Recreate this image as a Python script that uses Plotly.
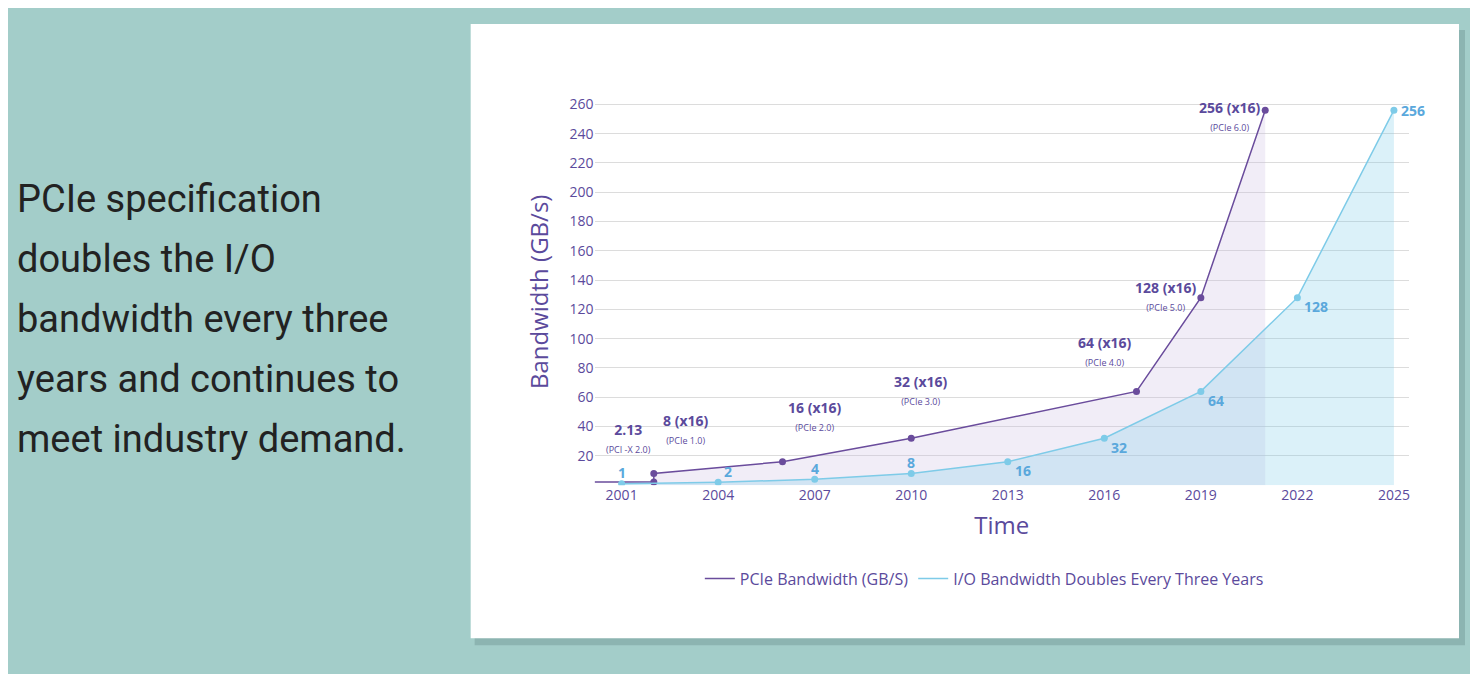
import plotly.graph_objects as go

# PCIe bandwidth (GB/s)
pcie_year = [2000.16, 2002, 2002, 2006, 2010, 2017, 2019, 2021]
pcie_bw = [2.13, 2.13, 8, 16, 32, 64, 128, 256]
pcie_marker_year = [2002, 2002, 2006, 2010, 2017, 2019, 2021]
pcie_marker_bw = [2.13, 8, 16, 32, 64, 128, 256]

# I/O bandwidth doubles every three years
io_year = [2001, 2004, 2007, 2010, 2013, 2016, 2019, 2022, 2025]
io_bw = [1, 2, 4, 8, 16, 32, 64, 128, 256]

x_ticks = [2001, 2004, 2007, 2010, 2013, 2016, 2019, 2022, 2025]
y_ticks = list(range(20, 261, 20))

text_lines = ["PCIe specification", "doubles the I/O", "bandwidth every three",
              "years and continues to", "meet industry demand."]

purple = "#6a4c9c"
purple_txt = "#5b4a9c"
blue = "#7ecbe8"
blue_txt = "#5aa8dc"

# the page puts an 8px margin round the figure, so work in shifted pixels
W, H, OFF = 1462, 666, 8


def px(x):
    return (x - OFF) / W


def py(y):
    return 1 - (y - OFF) / H


fig = go.Figure()

# fills
fig.add_trace(go.Scatter(x=pcie_year[2:], y=pcie_bw[2:], fill="tozeroy", mode="none",
                         fillcolor="rgba(200,185,225,0.25)", showlegend=False, hoverinfo="skip"))
fig.add_trace(go.Scatter(x=io_year, y=io_bw, fill="tozeroy", mode="none",
                         fillcolor="rgba(126,203,232,0.28)", showlegend=False, hoverinfo="skip"))

fig.add_trace(go.Scatter(x=pcie_year, y=pcie_bw, mode="lines", line=dict(color=purple, width=1.5),
                         name="PCIe Bandwidth (GB/S)"))
fig.add_trace(go.Scatter(x=pcie_marker_year, y=pcie_marker_bw, mode="markers",
                         marker=dict(color=purple, size=7), showlegend=False))
fig.add_trace(go.Scatter(x=io_year, y=io_bw, mode="lines", line=dict(color=blue, width=1.5),
                         name="I/O Bandwidth Doubles Every Three Years"))
fig.add_trace(go.Scatter(x=io_year, y=io_bw, mode="markers", marker=dict(color=blue, size=7),
                         showlegend=False))

# purple labels: x, y, label, sub label, yshift, xanchor
pcie_labels = [
    (2001.2, 2.13, "2.13", "(PCI -X 2.0)", 44, "center"),
    (2003.0, 8, "8 (x16)", "(PCIe 1.0)", 44, "center"),
    (2007.0, 16, "16 (x16)", "(PCIe 2.0)", 46, "center"),
    (2010.3, 32, "32 (x16)", "(PCIe 3.0)", 48, "center"),
    (2016.0, 64, "64 (x16)", "(PCIe 4.0)", 40, "center"),
    (2018.9, 128, "128 (x16)", "(PCIe 5.0)", 2, "right"),
    (2020.9, 256, "256 (x16)", "(PCIe 6.0)", -6, "right"),
]
for x, y, big, small, dy, xa in pcie_labels:
    fig.add_annotation(x=x, y=y, yshift=dy, xanchor=xa, showarrow=False,
                       text=f"<b>{big}</b><br><span style='font-size:9px'>{small}</span>",
                       font=dict(size=14, color=purple_txt, family="Open Sans"))

for x, y in zip(io_year, io_bw):
    if x in (2001, 2004, 2007, 2010):
        fig.add_annotation(x=x, y=y, yshift=11, xshift=(10 if x == 2004 else 0),
                           text=f"<b>{y}</b>", showarrow=False,
                           font=dict(size=14, color=blue_txt, family="Open Sans"))
    else:
        fig.add_annotation(x=x, y=y, xshift=5, yshift=(-9 if x < 2025 else 0), xanchor="left",
                           text=f"<b>{y}</b>", showarrow=False,
                           font=dict(size=14, color=blue_txt, family="Open Sans"))

# card with a soft shadow
fig.add_shape(type="rect", xref="paper", yref="paper", x0=px(475), x1=px(1466),
              y0=py(645), y1=py(26), fillcolor="rgba(60,90,90,0.22)", line_width=0, layer="below")
fig.add_shape(type="rect", xref="paper", yref="paper", x0=px(471), x1=px(1460),
              y0=py(638), y1=py(20), fillcolor="white", line_width=0, layer="below")

for i, line in enumerate(text_lines):
    fig.add_annotation(xref="paper", yref="paper", x=px(15), y=py(196 + 60.3 * i), xanchor="left",
                       yanchor="middle", showarrow=False, text=line,
                       font=dict(size=38, color="#222222", family="Roboto"))

fig.update_layout(
    width=W, height=H, margin=dict(l=0, r=0, t=0, b=0),
    paper_bgcolor="#a3cdc9", plot_bgcolor="rgba(0,0,0,0)",
    font=dict(family="Open Sans", color=purple_txt),
    showlegend=True,
    legend=dict(orientation="h", x=px(985), xanchor="center", y=py(578), yanchor="middle",
                font=dict(size=16, color=purple_txt), bgcolor="rgba(0,0,0,0)"),
    xaxis=dict(domain=[px(595), px(1410)], range=[2000.16, 2025.47], tickvals=x_ticks,
               showgrid=False, zeroline=False, tickfont=dict(size=14, color=purple_txt),
               title=dict(text="Time", font=dict(size=24, color=purple_txt), standoff=14)),
    yaxis=dict(domain=[py(484), py(95)], range=[0, 264], tickvals=y_ticks,
               gridcolor="#dcdcdc", zeroline=False, tickfont=dict(size=14, color=purple_txt),
               title=dict(text="Bandwidth (GB/s)", font=dict(size=24, color=purple_txt), standoff=14)),
)

fig.write_html("out.html")
